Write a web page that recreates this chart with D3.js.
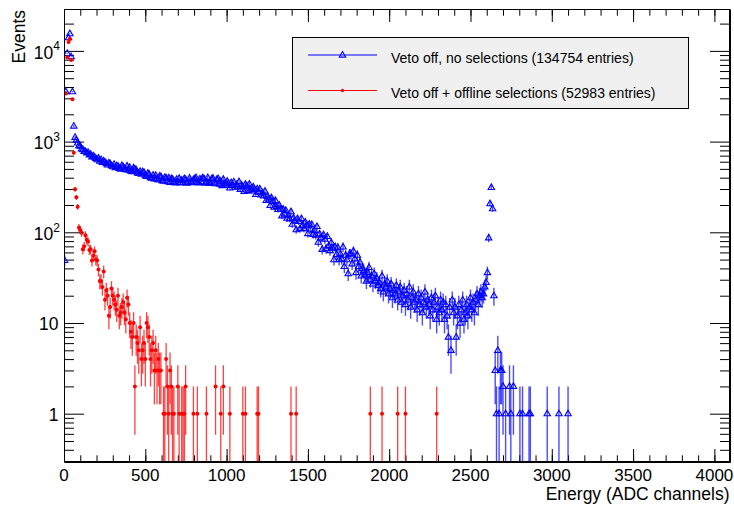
<!DOCTYPE html>
<html>
<head>
<meta charset="utf-8">
<script src="https://cdn.jsdelivr.net/npm/d3@7"></script>
<style>
  body { margin: 0; background: #fff; }
  svg { font-family: "Liberation Sans", Arial, Helvetica, sans-serif; }
</style>
</head>
<body>
<svg id="chart" width="734" height="507"></svg>
<script>
// histogram binning: 512 bins of 8 ADC channels
const binWidth = 8;
const xMax = 4096;
const xMajorTicks = [0, 500, 1000, 1500, 2000, 2500, 3000, 3500, 4000];
const yDecades = [1, 10, 100, 1000, 10000];

const legendLabels = [
  "Veto off, no selections (134754 entries)",
  "Veto off + offline selections (52983 entries)"
];

// Veto off, no selections: counts per bin, from bin 0
const vetoOffCounts = [
  49, 3550, 9400, 14000, 15500, 8630, 3550, 1486, 1115, 1040,
  968, 905, 891, 832, 818, 781, 779, 752, 761, 716,
  724, 681, 697, 673, 655, 633, 657, 611, 634, 592,
  612, 596, 571, 553, 583, 571, 542, 529, 562, 518,
  541, 537, 507, 498, 546, 528, 503, 491, 539, 486,
  521, 474, 468, 513, 498, 489, 452, 447, 471, 438,
  466, 459, 421, 413, 448, 437, 402, 396, 428, 389,
  425, 389, 378, 417, 412, 371, 368, 404, 398, 362,
  399, 356, 392, 386, 358, 350, 384, 355, 394, 351,
  376, 356, 391, 384, 349, 357, 396, 361, 353, 381,
  392, 401, 356, 352, 388, 361, 398, 393, 349, 358,
  402, 354, 346, 389, 396, 351, 344, 383, 391, 339,
  366, 328, 385, 345, 330, 366, 345, 309, 354, 329,
  360, 315, 336, 318, 363, 298, 332, 319, 283, 339,
  325, 289, 340, 301, 286, 317, 297, 262, 302, 278,
  302, 258, 272, 252, 285, 225, 250, 233, 198, 241,
  220, 189, 225, 193, 179, 200, 181, 152, 180, 159,
  175, 143, 155, 141, 169, 123, 144, 134, 107, 142,
  132, 110, 142, 119, 110, 130, 118, 97, 123, 109,
  122, 95, 105, 93, 116, 78, 96, 87, 65, 94,
  84, 66, 90, 71, 63, 77, 67, 50, 69, 57,
  68, 50, 58, 51, 69, 42, 56, 50, 35, 58,
  58, 45, 62, 51, 36, 56, 42, 47, 33, 40,
  38, 34, 29, 36, 41, 30, 33, 27, 35, 29,
  31, 26, 28, 24, 33, 22, 27, 25, 29, 21,
  24, 27, 19, 23, 21, 26, 18, 22, 25, 17,
  20, 23, 16, 21, 18, 25, 15, 19, 22, 17,
  18, 14, 21, 16, 19, 13, 17, 22, 15, 18,
  16, 12, 19, 14, 17, 20, 11, 15, 13, 18,
  14, 17, 11, 16, 12, 7, 15, 5, 18, 13,
  15, 7, 12, 16, 10, 14, 18, 11, 13, 16,
  12, 15, 19, 14, 17, 13, 18, 21, 16, 20,
  22, 19, 21, 25, 28, 36, 87, 207, 313, 182, 20
];
// sparse bins above the 2615 peak: [bin, count]
const vetoOffTail = [
  [331, 3], [332, 1], [333, 5], [334, 1], [335, 3], [336, 3], [337, 2],
  [339, 1], [342, 2], [343, 1], [345, 2], [350, 1], [352, 1], [357, 1],
  [358, 1], [371, 1], [380, 1], [387, 1]
];

// Veto off + offline selections: counts per bin, from bin 0
const selectedCounts = [
  0, 3400, 8500, 12500, 13500, 7950, 2925, 755, 298, 243,
  191, 113, 106, 99, 65, 70, 93, 82, 79, 64,
  65, 49, 55, 62, 50, 49, 39, 29, 29, 25,
  37, 18, 23, 20, 12, 15, 24, 20, 18, 16,
  14, 20, 12, 13, 15, 17, 13, 11, 19, 16,
  10, 8, 7, 10, 2, 7, 6, 5, 9, 4,
  5, 6, 4, 10, 9, 7, 4, 5, 6, 3,
  5, 3, 4, 3, 3, 0, 1, 1, 4, 2,
  1, 3, 2, 1, 1, 0, 0, 2, 1, 0,
  1, 1, 1, 2
];
const selectedTail = [
  [99, 1], [102, 1], [109, 1], [116, 2], [120, 1], [122, 2], [127, 1],
  [137, 1], [139, 1], [148, 1], [149, 1], [174, 1], [178, 1], [235, 1],
  [244, 1], [256, 1], [262, 1], [286, 1]
];

const frame = { left: 64, right: 730, top: 9, bottom: 462 };

const svg = d3.select('#chart');

const x = d3.scaleLinear().domain([0, xMax]).range([frame.left, frame.right]);
const y = d3.scaleLog().domain([0.2934, 28970]).range([frame.bottom, frame.top]);

function toPoints(counts, tail) {
  const pts = [];
  counts.forEach((n, i) => { if (n > 0) pts.push({ bin: i, n: n }); });
  tail.forEach(d => pts.push({ bin: d[0], n: d[1] }));
  return pts.map(d => ({ e: (d.bin + 0.5) * binWidth, n: d.n }));
}

const bluePts = toPoints(vetoOffCounts, vetoOffTail);
const redPts = toPoints(selectedCounts, selectedTail);

svg.append('clipPath').attr('id', 'plotClip')
  .append('rect')
  .attr('x', frame.left).attr('y', frame.top)
  .attr('width', frame.right - frame.left).attr('height', frame.bottom - frame.top);

// ---- axes (ROOT style: ticks inside the frame, on all four sides) ----
const minorX = d3.range(0, xMax + 1, 100);
const minorY = [];
[0.1, 1, 10, 100, 1000, 10000].forEach(d => {
  for (let m = 2; m <= 9; m++) {
    const v = m * d;
    if (v >= y.domain()[0] && v <= y.domain()[1]) minorY.push(v);
  }
});

function axisPair(axisFn, scale, major, minor, majorLen, minorLen, tx, ty) {
  const gMin = svg.append('g').attr('transform', `translate(${tx},${ty})`)
    .call(axisFn(scale).tickValues(minor).tickSizeInner(-minorLen).tickSizeOuter(0).tickFormat(''));
  gMin.select('.domain').remove();
  const gMaj = svg.append('g').attr('transform', `translate(${tx},${ty})`)
    .call(axisFn(scale).tickValues(major).tickSizeInner(-majorLen).tickSizeOuter(0).tickFormat(''));
  return gMaj;
}

axisPair(d3.axisBottom, x, xMajorTicks, minorX, 13, 6.7, 0, frame.bottom);
axisPair(d3.axisTop, x, xMajorTicks, minorX, 13, 6.7, 0, frame.top);
axisPair(d3.axisLeft, y, yDecades, minorY, 20, 10, frame.left, 0);
axisPair(d3.axisRight, y, yDecades, minorY, 20, 10, frame.right, 0);

// x tick labels
svg.append('g')
  .attr('font-size', 17)
  .attr('text-anchor', 'middle')
  .selectAll('text')
  .data(xMajorTicks)
  .join('text')
  .attr('x', d => x(d))
  .attr('y', 480.5)
  .text(d => d);

// y tick labels, 10^n with superscript
const yLab = svg.append('g').attr('font-size', 17.5).attr('text-anchor', 'end');
yDecades.forEach(v => {
  const exp = Math.round(Math.log10(v));
  if (exp < 2) {
    yLab.append('text').attr('x', 58.5).attr('y', y(v) + 7.3).text(v);
  } else {
    const t = yLab.append('text').attr('x', 60).attr('y', y(v) + 7.7);
    t.append('tspan').text('10');
    t.append('tspan').attr('font-size', 12).attr('dy', -8.4).text(exp);
  }
});

// axis titles
svg.append('text')
  .attr('font-size', 17.5)
  .attr('text-anchor', 'end')
  .attr('transform', 'translate(25,10) rotate(-90)')
  .text('Events');

svg.append('text')
  .attr('font-size', 17.5)
  .attr('text-anchor', 'end')
  .attr('x', 729.5)
  .attr('y', 499.5)
  .text('Energy (ADC channels)');

// ---- data ----
const trianglePath = 'M0,-3.5L3.2,2.1L-3.2,2.1Z';

function errorBars(g, pts, color, width, opacity) {
  g.append('g')
    .attr('stroke', color)
    .attr('stroke-width', width)
    .attr('stroke-opacity', opacity)
    .selectAll('line')
    .data(pts)
    .join('line')
    .attr('x1', d => x(d.e)).attr('x2', d => x(d.e))
    .attr('y1', d => y(d.n + Math.sqrt(d.n)))
    .attr('y2', d => {
      const lo = d.n - Math.sqrt(d.n);
      return lo > y.domain()[0] ? y(lo) : frame.bottom + 2;
    });
}

const plot = svg.append('g').attr('clip-path', 'url(#plotClip)');

const blueG = plot.append('g');
errorBars(blueG, bluePts, '#0000ff', 1.4, 0.7);
blueG.append('g')
  .selectAll('path')
  .data(bluePts)
  .join('path')
  .attr('transform', d => `translate(${x(d.e)},${y(d.n)})`)
  .attr('d', trianglePath)
  .attr('fill', 'none')
  .attr('stroke', '#0000ff')
  .attr('stroke-width', 1.1);

const redG = plot.append('g');
errorBars(redG, redPts, '#ff0000', 1.3, 0.75);
redG.append('g')
  .selectAll('circle')
  .data(redPts)
  .join('circle')
  .attr('cx', d => x(d.e))
  .attr('cy', d => y(d.n))
  .attr('r', 2)
  .attr('fill', '#ff0000');

// frame
svg.append('rect')
  .attr('x', frame.left + 0.5).attr('y', frame.top + 0.5)
  .attr('width', frame.right - frame.left - 1).attr('height', frame.bottom - frame.top - 1)
  .attr('fill', 'none').attr('stroke', '#000').attr('stroke-width', 1);

// ---- legend ----
const legend = svg.append('g');
legend.append('rect')
  .attr('x', 292.5).attr('y', 37.5)
  .attr('width', 396).attr('height', 71)
  .attr('fill', '#f0f0f0').attr('stroke', '#000').attr('stroke-width', 1);

const legendRows = [
  { label: legendLabels[0], color: '#0000ff', yPos: 55, marker: 'tri' },
  { label: legendLabels[1], color: '#ff0000', yPos: 90.5, marker: 'dot' }
];
legendRows.forEach(r => {
  legend.append('line')
    .attr('x1', 308).attr('x2', 377)
    .attr('y1', r.yPos).attr('y2', r.yPos)
    .attr('stroke', r.color).attr('stroke-width', 1);
  if (r.marker === 'tri') {
    legend.append('path')
      .attr('transform', `translate(342.5,${r.yPos})`)
      .attr('d', trianglePath)
      .attr('fill', 'none').attr('stroke', r.color).attr('stroke-width', 1.1);
  } else {
    legend.append('circle')
      .attr('cx', 342.5).attr('cy', r.yPos).attr('r', 1.7)
      .attr('fill', r.color);
  }
  legend.append('text')
    .attr('x', 391).attr('y', r.yPos + 7.8)
    .attr('font-size', 14)
    .text(r.label);
});
</script>
</body>
</html>
